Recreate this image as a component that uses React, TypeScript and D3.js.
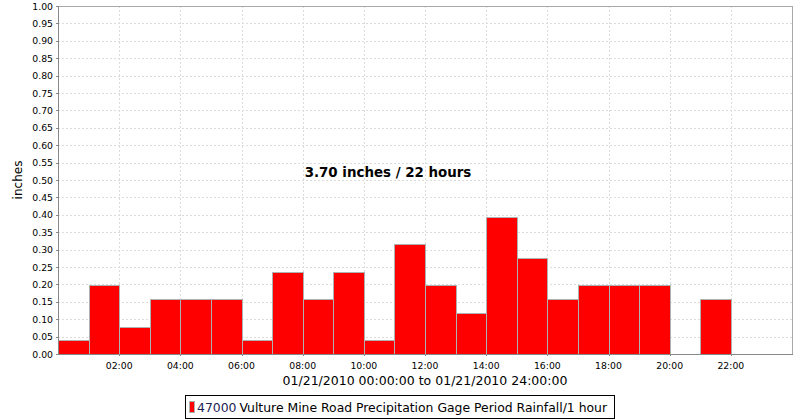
import React from "react";
import * as d3 from "d3";

// Hourly rainfall (inches) for hour starting at index (00:00 .. 21:00)
const hours = [0, 1, 2, 3, 4, 5, 6, 7, 8, 9, 10, 11, 12, 13, 14, 15, 16, 17, 18, 19, 20, 21];
const rainfall = [0.039, 0.197, 0.079, 0.157, 0.157, 0.157, 0.039, 0.236, 0.157, 0.236, 0.039, 0.315, 0.197, 0.118, 0.394, 0.276, 0.157, 0.197, 0.197, 0.197, 0, 0.157];
const yTicks = d3.range(0, 1.0001, 0.05).map((v) => +v.toFixed(2));
const xTickHours = [2, 4, 6, 8, 10, 12, 14, 16, 18, 20, 22];
const xTickLabels = ["02:00", "04:00", "06:00", "08:00", "10:00", "12:00", "14:00", "16:00", "18:00", "20:00", "22:00"];
const titleText = "3.70 inches / 22 hours";
const xAxisLabel = "01/21/2010 00:00:00 to 01/21/2010 24:00:00";
const yAxisLabel = "inches";
const legendId = "47000";
const legendName = "Vulture Mine Road Precipitation Gage Period Rainfall/1 hour";

const W = 800;
const H = 420;
const M = { left: 58, top: 6, right: 8, bottom: 66 };
const FONT = "'DejaVu Sans', sans-serif";

export default function App() {
  const x = d3.scaleLinear().domain([0, 24]).range([M.left, W - M.right]);
  const y = d3.scaleLinear().domain([0, 1]).range([H - M.bottom, M.top]);
  const x0 = x.range()[0], x1 = x.range()[1];
  const y0 = y.range()[0], y1 = y.range()[1];

  return (
    <svg width={W} height={H} style={{ position: "absolute", left: 0, top: 0, background: "#fff" }} fontFamily={FONT}>
      <rect x={0} y={0} width={W} height={H} fill="#fff" />
      {/* grid */}
      {yTicks.filter((t) => t > 0 && t < 1).map((t) => (
        <line key={"gy" + t} x1={x0} x2={x1} y1={Math.round(y(t)) + 0.5} y2={Math.round(y(t)) + 0.5} stroke="#dcdcdc" strokeDasharray="2,2" />
      ))}
      {xTickHours.map((h) => (
        <line key={"gx" + h} x1={Math.round(x(h)) + 0.5} x2={Math.round(x(h)) + 0.5} y1={y1} y2={y0} stroke="#dcdcdc" strokeDasharray="2,2" />
      ))}
      {/* bars */}
      {hours.map((h, i) => {
        const v = rainfall[i];
        if (v <= 0) return null;
        const bx = Math.round(x(h)) + 0.5;
        const bw = Math.round(x(h + 1)) - Math.round(x(h));
        const by = Math.round(y(v)) + 0.5;
        return <rect key={"b" + h} x={bx} y={by} width={bw} height={Math.round(y0) - Math.round(y(v))} fill="#ff0000" stroke="#b0b0b0" strokeWidth={1} />;
      })}
      {/* plot border */}
      <line x1={x0} x2={x1} y1={y1 + 0.5} y2={y1 + 0.5} stroke="#a8a8a8" />
      <line x1={x1 + 0.5} x2={x1 + 0.5} y1={y1} y2={y0} stroke="#a8a8a8" />
      {/* axes */}
      <line x1={x0 + 0.5} x2={x0 + 0.5} y1={y1} y2={y0 + 1} stroke="#888" />
      <line x1={x0} x2={x1 + 1} y1={y0 + 0.5} y2={y0 + 0.5} stroke="#888" />
      {/* y ticks */}
      {yTicks.map((t) => (
        <g key={"yt" + t}>
          <line x1={x0 - 2} x2={x0} y1={Math.round(y(t)) + 0.5} y2={Math.round(y(t)) + 0.5} stroke="#888" />
          <text x={x0 - 5} y={y(t) + 3.5} textAnchor="end" fontSize={9.3} fill="#000">{t.toFixed(2)}</text>
        </g>
      ))}
      {/* x ticks */}
      {xTickHours.map((h, i) => (
        <g key={"xt" + h}>
          <line x1={Math.round(x(h)) + 0.5} x2={Math.round(x(h)) + 0.5} y1={y0} y2={y0 + 2} stroke="#888" />
          <text x={x(h)} y={369} textAnchor="middle" fontSize={9.3} fill="#000">{xTickLabels[i]}</text>
        </g>
      ))}
      {/* axis labels */}
      <text x={(x0 + x1) / 2} y={385} textAnchor="middle" fontSize={12.5} fill="#000">{xAxisLabel}</text>
      <text transform={`translate(22,${(y0 + y1) / 2}) rotate(-90)`} textAnchor="middle" fontSize={12} fill="#000">{yAxisLabel}</text>
      {/* annotation */}
      <text x={388} y={176.5} textAnchor="middle" fontSize={13.4} fontWeight="bold" fill="#000">{titleText}</text>
      {/* legend */}
      <rect x={185.5} y={395.5} width={429} height={23} fill="#fff" stroke="#000" />
      <rect x={189.5} y={401.5} width={5} height={11} fill="#ff0000" stroke="#b0b0b0" />
      <text x={197} y={412} fontSize={12.4} fill="#000">
        <tspan fill="#1c2458">{legendId}</tspan>
        <tspan dx={3}>{legendName}</tspan>
      </text>
    </svg>
  );
}
